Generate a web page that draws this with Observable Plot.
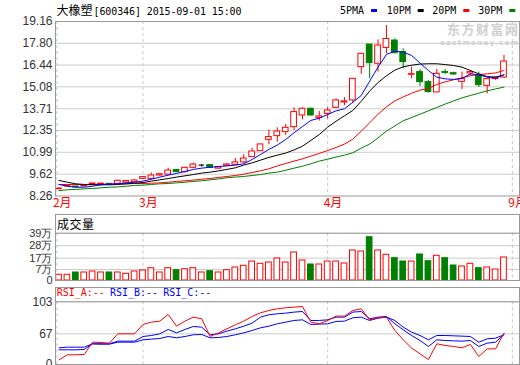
<!DOCTYPE html>
<html><head><meta charset="utf-8">
<script src="https://cdn.jsdelivr.net/npm/d3@7"></script>
<script src="https://cdn.jsdelivr.net/npm/@observablehq/plot@0.6"></script>
<style>
html,body{margin:0;padding:0;background:#fff;}
#chart{position:relative;width:520px;height:365px;overflow:hidden;background:#fff;}
#chart > svg{position:absolute;left:0;}
</style></head><body><div id="chart"></div>
<script>
// ---------- data ----------
const stockName = "大橡塑";
const stockCode = "600346";
const stampText = "2015-09-01 15:00";

const opens  = [8.69,8.85,8.85,8.86,8.98,9.00,9.02,9.02,9.10,9.12,9.33,9.33,9.54,9.60,9.89,9.75,10.02,10.19,10.19,9.97,10.15,10.21,10.36,10.69,11.06,11.77,12.00,12.25,12.56,13.29,13.71,13.14,13.39,13.77,14.10,14.23,16.31,17.72,16.52,17.51,17.97,17.25,15.83,16.00,15.37,14.73,16.00,15.93,15.39,15.91,15.81,15.14,15.56,15.66];
const highs  = [8.78,8.92,8.88,8.92,9.06,9.06,9.04,9.25,9.21,9.29,9.48,9.69,9.69,9.99,9.92,10.06,10.31,10.23,10.23,10.08,10.27,10.60,10.85,11.25,11.50,12.39,12.52,12.73,13.77,13.77,13.75,13.54,13.77,14.33,14.40,15.58,17.14,17.72,18.01,18.91,18.08,17.45,16.31,16.16,15.47,16.16,16.16,16.00,16.00,16.10,16.00,15.56,15.70,17.04];
const lows   = [8.66,8.83,8.78,8.84,8.96,8.96,8.94,9.00,9.08,9.10,9.29,9.27,9.50,9.54,9.72,9.70,9.97,10.06,9.99,9.95,10.10,10.15,10.27,10.66,11.04,11.48,11.62,12.04,12.35,13.02,13.25,12.94,13.08,13.71,13.90,14.02,15.85,15.58,15.99,17.14,17.14,16.20,15.58,15.10,14.69,14.73,15.85,15.81,14.90,15.77,15.04,14.64,15.48,15.60];
const closes = [8.72,8.88,8.80,8.89,9.04,9.03,8.97,9.21,9.19,9.23,9.44,9.54,9.62,9.85,9.75,10.02,10.23,10.19,10.02,10.06,10.23,10.36,10.60,11.04,11.48,11.94,12.29,12.52,13.50,13.71,13.29,13.23,13.60,14.23,14.17,15.58,17.14,16.56,17.66,18.07,17.18,16.62,15.87,15.37,14.75,15.89,15.95,15.85,15.56,16.00,15.18,15.56,15.66,16.66];

const ma5  = [8.98,8.87,8.81,8.81,8.87,8.96,9.00,9.02,9.08,9.12,9.19,9.31,9.44,9.56,9.67,9.79,9.92,10.00,10.06,10.10,10.14,10.19,10.27,10.54,10.85,11.17,11.44,11.79,12.21,12.60,12.98,13.12,13.35,13.58,13.71,14.12,14.54,15.43,16.31,17.10,17.31,17.24,17.04,16.56,16.10,15.68,15.58,15.54,15.60,15.89,15.83,15.68,15.62,15.83];
const ma10 = [9.23,9.12,9.02,8.98,8.96,8.96,8.96,8.98,9.02,9.06,9.10,9.19,9.27,9.35,9.44,9.52,9.60,9.69,9.75,9.83,9.92,10.02,10.19,10.33,10.50,10.67,10.81,10.94,11.14,11.37,11.73,12.10,12.56,12.93,13.27,13.60,14.18,14.81,15.35,15.77,16.12,16.33,16.43,16.50,16.52,16.52,16.47,16.41,16.31,16.10,15.89,15.72,15.68,15.83];
const ma20 = [8.98,8.98,8.98,8.98,8.98,9.00,9.00,9.02,9.02,9.04,9.04,9.06,9.08,9.12,9.17,9.21,9.25,9.31,9.35,9.42,9.48,9.54,9.62,9.73,9.83,9.96,10.14,10.29,10.44,10.58,10.75,10.92,11.10,11.29,11.50,11.81,12.31,12.83,13.37,13.83,14.20,14.45,14.68,14.87,14.98,15.23,15.39,15.52,15.64,15.77,15.85,15.89,15.95,16.10];
const ma30 = [8.60,8.65,8.67,8.71,8.73,8.77,8.81,8.83,8.87,8.92,8.94,8.98,9.02,9.04,9.08,9.12,9.17,9.21,9.27,9.33,9.40,9.44,9.48,9.54,9.60,9.69,9.75,9.87,10.00,10.12,10.27,10.44,10.56,10.69,10.81,10.96,11.25,11.50,11.89,12.31,12.64,12.96,13.16,13.37,13.58,13.79,14.00,14.20,14.39,14.54,14.68,14.83,14.95,15.06];

// volume in 万 on the panel's own axis (its bottom edge is labelled "0")
const volumes = [2.33,2.33,4.35,4.35,5.24,4.35,4.35,4.35,3.21,5.24,6.12,8.15,4.35,8.15,6.38,7.26,8.15,4.35,5.5,4.35,6.38,8.76,10.26,14.05,12.03,13.17,16.7,13.17,21.99,14.94,11.41,11.41,14.05,14.05,12.29,23.76,22.87,35.48,23.76,19.96,16.96,14.05,14.05,20.23,14.32,19.08,16.96,10.53,9.65,12.03,8.15,8.76,7.0,17.58];

const rsiA = [37.75,43.4,43.4,43.75,57.6,57.25,56.5,67,67,67,77.5,80.1,81.25,88.75,75.6,81.25,85.75,83.9,64,68.1,72.6,77.1,81.25,86.5,90.6,93.25,95.1,96.25,97,97.75,80.1,78.25,82,86.9,86.9,93.25,95.1,82.75,85,85.75,70.75,60.25,50.9,44.5,38.1,55.75,53.9,52.75,51.25,55,41.5,50.1,50.1,67.75];
const rsiB = [49,49,49,49.4,55.75,55.75,55.75,58.75,58.75,58.75,64,65.1,67,71.9,68.1,71.9,75.25,74.5,65.9,67,70,72.6,75.6,79,85.75,88.4,89.5,90.25,91.4,92.1,82,82,82.75,85.75,85.75,91.4,92.1,83.9,85.75,86.5,78.25,71.5,65.1,59.5,52.75,60.25,59.5,59.1,58.75,59.5,52.75,56.5,57.6,66.25];
const rsiC = [51.25,52,52,52,55.75,55.4,55.4,57.6,57.6,57.6,60.25,61,61.75,64,62.5,64,65.9,66.25,62.5,62.9,64,65.9,68.1,70.75,73.75,75.6,78.25,80.1,82,82.75,77.5,77.9,78.25,80.9,81.25,85,85.75,82,84.6,85.75,82,74.5,68.9,65.1,60.25,65.1,65.1,64.75,64.4,64,57.6,61.4,62.1,65.9];

const priceTicks = [19.16,17.80,16.44,15.08,13.71,12.35,10.99,9.62,8.26];
const volumeTicks = [-2.7,7,17,28,39];
const volumeTickLabels = ["0","7万","17万","28万","39万"];
const rsiTicks = [32.5,67,103];
const rsiTickLabels = ["0","67","103"];
const monthTicks = [-0.25,10,32,54];
const monthLabels = ["2月","3月","4月","9月"];
const legendLabels = ["5PMA","10PM","20PM","30PM"];
const rsiHeaderLabels = ["RSI_A:--","RSI_B:--","RSI_C:--"];
const volumeTitle = "成交量";

// ---------- drawing ----------
const root = document.getElementById("chart");
const W = 520;
const RED = "#ff0000", GREEN = "#008000", BLUE = "#0000ff", BLACK = "#000000";
const GRID = "#cccccc", FRAME = "#999999", SEP = "#888888";
const legendColors = [BLUE, BLACK, RED, GREEN];
const rsiColors = [RED, BLUE, BLUE];
const CJK = '"Noto Sans CJK SC", sans-serif';
const MONO = '"DejaVu Sans Mono", monospace';

const rows = closes.map((c, i) => ({i, open: opens[i], high: highs[i], low: lows[i], close: c, vol: volumes[i]}));
const tone = d => d.close > d.open ? RED : d.close < d.open ? GREEN : BLACK;
const half = 0.34;
const seq = (d, i) => i;
const base = {
  width: W, marginLeft: 55, marginRight: 1,
  x: {domain: [-0.42, 54.85], axis: null},
  color: {type: "identity"},
  style: {fontFamily: '"Liberation Sans", Arial, sans-serif', fontSize: "12px", background: "transparent", overflow: "visible"}
};
const dashed = {stroke: "#c8c8c8", strokeDasharray: "3,3"};
const thin = {strokeWidth: 1};
function place(svg, top) { svg.style.top = top + "px"; root.appendChild(svg); }

// price panel
place(Plot.plot({
  ...base, height: 214, marginTop: 21, marginBottom: 18.5,
  y: {domain: [priceTicks[priceTicks.length - 1], priceTicks[0]], axis: null},
  marks: [
    Plot.ruleY(priceTicks.slice(1, -1), {stroke: GRID}),
    Plot.ruleX(monthTicks, dashed),
    Plot.ruleX(rows, {x: "i", y1: "low", y2: "high", stroke: tone}),
    Plot.rect(rows.filter(d => d.open !== d.close), {
      x1: d => d.i - half, x2: d => d.i + half, y1: "open", y2: "close",
      fill: d => d.close > d.open ? "#ffffff" : GREEN, stroke: tone
    }),
    Plot.ruleY(rows.filter(d => d.open === d.close), {y: "close", x1: d => d.i - half, x2: d => d.i + half, stroke: BLACK}),
    Plot.line(ma30, {x: seq, y: d => d, stroke: GREEN, ...thin}),
    Plot.line(ma20, {x: seq, y: d => d, stroke: RED, ...thin}),
    Plot.line(ma10, {x: seq, y: d => d, stroke: BLACK, ...thin}),
    Plot.line(ma5, {x: seq, y: d => d, stroke: BLUE, ...thin}),
    Plot.axisY(priceTicks, {label: null, tickSize: 0, tickPadding: 3, tickFormat: d => d.toFixed(2), fill: "#333", fontSize: 12}),
    Plot.text(monthTicks, {x: d => d, text: (d, i) => monthLabels[i], frameAnchor: "bottom", dy: 11, dx: -4, textAnchor: "start", fill: RED, fontFamily: CJK, fontSize: 12}),
    Plot.frame({stroke: FRAME})
  ]
}), 0);

// volume panel
place(Plot.plot({
  ...base, height: 68, marginTop: 18.7, marginBottom: 2,
  y: {domain: [volumeTicks[0], volumeTicks[volumeTicks.length - 1]], axis: null},
  marks: [
    Plot.ruleY(volumeTicks.slice(1, -1), {stroke: GRID}),
    Plot.ruleX(monthTicks, dashed),
    Plot.rect(rows, {
      x1: d => d.i - half, x2: d => d.i + half, y1: volumeTicks[0], y2: "vol",
      fill: d => d.close < d.open ? GREEN : "#ffffff",
      stroke: d => d.close < d.open ? GREEN : RED
    }),
    Plot.axisY(volumeTicks, {label: null, tickSize: 0, tickPadding: 3, tickFormat: d => volumeTickLabels[volumeTicks.indexOf(d)], fill: "#333", fontSize: 11}),
    Plot.ruleY([volumeTicks[volumeTicks.length - 1]], {stroke: SEP}),
    Plot.frame({stroke: FRAME, insetTop: -18.7})
  ]
}), 214);

// RSI panel
place(Plot.plot({
  ...base, height: 80, marginTop: 14.3, marginBottom: 3,
  y: {domain: [rsiTicks[0], rsiTicks[rsiTicks.length - 1]], axis: null},
  marks: [
    Plot.ruleY([rsiTicks[1]], {stroke: GRID}),
    Plot.ruleX(monthTicks, dashed),
    Plot.line(rsiC, {x: seq, y: d => d, stroke: BLUE, ...thin}),
    Plot.line(rsiB, {x: seq, y: d => d, stroke: BLUE, ...thin}),
    Plot.line(rsiA, {x: seq, y: d => d, stroke: RED, ...thin}),
    Plot.axisY(rsiTicks, {label: null, tickSize: 0, tickPadding: 3, tickFormat: d => rsiTickLabels[rsiTicks.indexOf(d)], fill: "#333", fontSize: 12}),
    Plot.ruleY([rsiTicks[rsiTicks.length - 1]], {stroke: SEP}),
    Plot.frame({stroke: FRAME, insetTop: -14.3})
  ]
}), 287);

// overlay text (title, legend, headers, watermark)
const ov = d3.create("svg").attr("width", W).attr("height", 365).style("top", "0px").style("pointer-events", "none");
ov.append("text").attr("x", 56.5).attr("y", 14.5).attr("font-family", CJK).attr("font-size", 12).attr("textLength", 36).text(stockName);
ov.append("text").attr("x", 93.5).attr("y", 14.5).attr("font-family", MONO).attr("font-size", 10).attr("textLength", 148).text(`[${stockCode}] ${stampText}`);
const legX = [340, 386.7, 432.3, 478.3];
legendLabels.forEach((t, k) => {
  ov.append("text").attr("x", legX[k]).attr("y", 14).attr("font-family", MONO).attr("font-size", 10).attr("textLength", 24).text(t);
  ov.append("rect").attr("x", legX[k] + 31).attr("y", 9).attr("width", 6).attr("height", 3).attr("fill", legendColors[k]);
});
ov.append("text").attr("x", 447).attr("y", 34).attr("font-family", CJK).attr("font-size", 13).attr("font-weight", "bold").attr("fill", "#cfcfcf").attr("textLength", 71).text("东方财富网");
ov.append("text").attr("x", 440).attr("y", 44.5).attr("font-family", '"DejaVu Sans", sans-serif').attr("font-size", 7).attr("font-weight", "bold").attr("fill", "#cfcfcf").attr("textLength", 78).text("eastmoney.com");
ov.append("text").attr("x", 57).attr("y", 229).attr("font-family", CJK).attr("font-size", 12).attr("textLength", 37).text(volumeTitle);
const rsiHX = [56.7, 110, 163.3];
rsiHeaderLabels.forEach((t, k) => {
  ov.append("text").attr("x", rsiHX[k]).attr("y", 296).attr("font-family", MONO).attr("font-size", 10).attr("textLength", 48).attr("fill", rsiColors[k]).text(t);
});
root.appendChild(ov.node());
</script>
</body></html>
